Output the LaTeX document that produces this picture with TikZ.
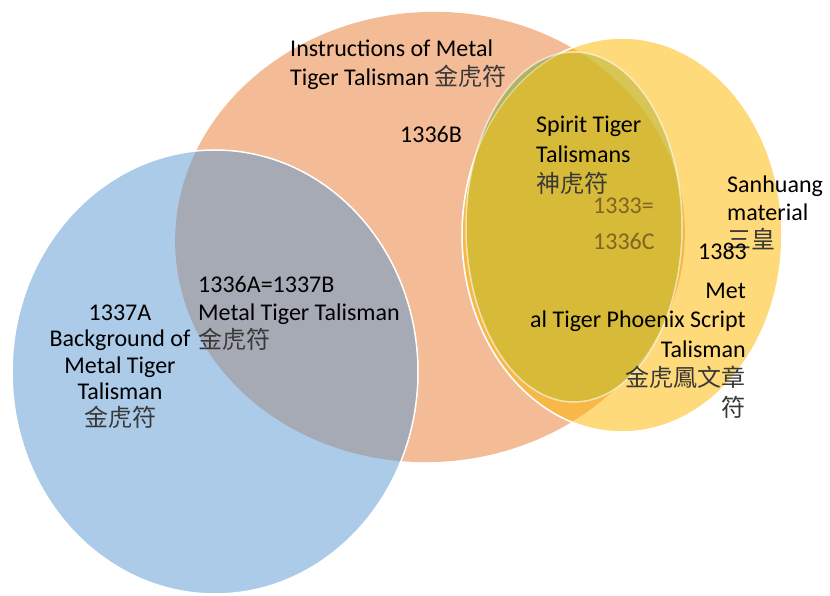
\documentclass[tikz,border=0pt]{standalone}
\usepackage{fontspec}
\setmainfont{Carlito}
\newfontfamily\cjk{Noto Sans CJK TC}
\newcommand\tp{\rule{0pt}{20pt}}
\newcommand\zh[1]{{\cjk\color{black!78}#1}}
\definecolor{peach}{RGB}{244,188,150}
\definecolor{blu}{RGB}{172,203,232}
\definecolor{gry}{RGB}{166,170,181}
\definecolor{yel}{RGB}{255,218,122}
\definecolor{orng}{RGB}{248,184,72}
\definecolor{oliv}{RGB}{215,186,56}
\definecolor{olivlt}{RGB}{215,197,86}
\definecolor{grn}{RGB}{178,178,100}
\definecolor{numtxt}{RGB}{128,100,34}
\tikzset{
  lbl/.style={inner sep=0pt, font=\fontsize{24}{29}\selectfont, text=black},
  rim/.style={draw=white, line width=1.5pt}
}
\begin{document}
\begin{tikzpicture}[x=1pt,y=1pt]
\useasboundingbox (0,0) rectangle (830,596);
\fill[white] (0,0) rectangle (830,596);
% peach ellipse
\fill[peach] (430,359) ellipse [x radius=255, y radius=225, rotate=4];
% yellow ellipse
\fill[yel] (622,361) ellipse [x radius=160, y radius=197];
\begin{scope}
  \clip (430,359) ellipse [x radius=255, y radius=225, rotate=4];
  \fill[orng] (622,361) ellipse [x radius=160, y radius=197];
\end{scope}
\path[rim] (622,361) ellipse [x radius=160, y radius=197];
% blue ellipse
\fill[blu] (215,224) ellipse [x radius=203, y radius=222];
\begin{scope}
  \clip (430,359) ellipse [x radius=255, y radius=225, rotate=4];
  \fill[gry] (215,224) ellipse [x radius=203, y radius=222];
\end{scope}
\path[rim] (215,224) ellipse [x radius=203, y radius=222];
% olive ellipse
\begin{scope}
  \clip (430,359) ellipse [x radius=255, y radius=225, rotate=4];
  \fill[grn] (574,369) ellipse [x radius=108, y radius=175];
\end{scope}
\begin{scope}
  \clip (622,361) ellipse [x radius=160, y radius=197];
  \fill[olivlt] (574,369) ellipse [x radius=108, y radius=175];
  \clip (430,359) ellipse [x radius=255, y radius=225, rotate=4];
  \fill[oliv] (574,369) ellipse [x radius=108, y radius=175];
\end{scope}
\path[rim, draw opacity=0.45, line width=1.2pt] (622,361) ellipse [x radius=160, y radius=197];
\path[rim, draw opacity=0.6] (574,369) ellipse [x radius=108, y radius=175];
% labels
\node[lbl, anchor=north west, align=left] (instr) at (290,560)
  {\tp Instructions of Metal\\Tiger Talisman \zh{金虎符}};
\node[lbl, anchor=base west] (b1336) at (400,453) {1336B};
\node[lbl, anchor=north west, align=left, font=\fontsize{24}{28}\selectfont] (a1336) at (198,324)
  {\tp 1336A=1337B\\Metal Tiger Talisman\\\zh{金虎符}};
\node[lbl, anchor=north, align=center, font=\fontsize{24}{26.5}\selectfont] (a1337) at (120,296)
  {\tp 1337A\\Background of\\Metal Tiger\\Talisman\\\zh{金虎符}};
\node[lbl, anchor=north west, align=left, font=\fontsize{24}{30}\selectfont] (spirit) at (536,484)
  {\tp Spirit Tiger\\Talismans\\\zh{神虎符}};
\node[lbl, anchor=north west, align=left, text=numtxt, font=\fontsize{24}{36}\selectfont] (c1333) at (593,403)
  {\tp 1333=\\1336C};
\node[lbl, anchor=north west, align=left, font=\fontsize{24}{28}\selectfont] (sanh) at (727,424)
  {\tp Sanhuang\\material\\\zh{三皇}};
\node[lbl, anchor=base west] (n1383) at (698,336) {1383};
\node[lbl, anchor=north east, align=right, font=\fontsize{24}{29.5}\selectfont] (phoenix) at (746,318)
  {\tp Met\\al Tiger Phoenix Script\\Talisman\\\zh{金虎鳳文章}\\\zh{符}};
\end{tikzpicture}
\end{document}
